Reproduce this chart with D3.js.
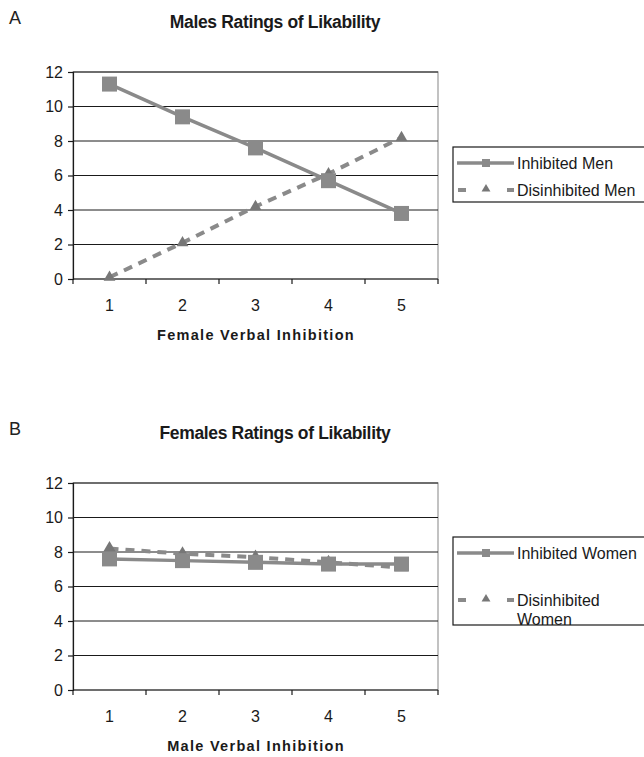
<!DOCTYPE html>
<html>
<head>
<meta charset="utf-8">
<script src="https://cdn.jsdelivr.net/npm/d3@7"></script>
<style>
  html, body { margin: 0; padding: 0; background: #fff; }
  svg { display: block; font-family: "Liberation Sans", Arial, sans-serif; }
</style>
</head>
<body>
<svg id="fig" width="644" height="757"></svg>
<script>
// Verbal inhibition levels (x categories)
const categories = ["1", "2", "3", "4", "5"];
const yTicks = [0, 2, 4, 6, 8, 10, 12];

// Panel A: males' likability ratings
const inhibitedMen = [11.3, 9.4, 7.6, 5.7, 3.8];
const disinhibitedMen = [0.1, 2.1, 4.2, 6.1, 8.2];

// Panel B: females' likability ratings
const inhibitedWomen = [7.6, 7.5, 7.4, 7.3, 7.3];
const disinhibitedWomen = [8.2, 7.9, 7.7, 7.4, 7.1];

const svg = d3.select("#fig");
const lineColor = "#8a8a8a";
const triColor = "#777777";

function drawPanel(cfg) {
  const g = svg.append("g");
  const x = d3.scaleBand().domain(categories).range([73, 438]);
  const y = d3.scaleLinear().domain([0, 12]).range([cfg.bottom, cfg.bottom - 207]);

  // panel letter and title
  g.append("text").attr("x", 9).attr("y", cfg.letterY)
    .attr("font-size", 18).attr("fill", "#222").text(cfg.letter);
  g.append("text").attr("x", 275).attr("y", cfg.titleY)
    .attr("text-anchor", "middle").attr("font-size", 17.5).attr("font-weight", "bold")
    .attr("letter-spacing", -0.35).attr("fill", "#1a1a1a").text(cfg.title);

  // plot frame
  g.append("rect").attr("x", 73).attr("y", y(12)).attr("width", 365).attr("height", y(0) - y(12))
    .attr("fill", "none").attr("stroke", "#9a9a9a").attr("stroke-width", 1.2);

  // horizontal gridlines
  g.selectAll(".grid").data(yTicks.filter(d => d > 0)).join("line")
    .attr("x1", 73).attr("x2", 438)
    .attr("y1", d => y(d)).attr("y2", d => y(d))
    .attr("stroke", "#1a1a1a").attr("stroke-width", 1);

  // y axis
  const yAxis = g.append("g").attr("transform", "translate(73,0)")
    .call(d3.axisLeft(y).tickValues(yTicks).tickSize(5).tickPadding(5).tickFormat(d3.format("d")));
  yAxis.select(".domain").attr("stroke", "#1a1a1a").attr("stroke-width", 1.2);
  yAxis.selectAll(".tick line").attr("stroke", "#1a1a1a").attr("stroke-width", 1.2);
  yAxis.selectAll(".tick text").attr("font-size", 16).attr("fill", "#1a1a1a")
    .attr("font-family", "Liberation Sans, Arial, sans-serif");

  // x axis with ticks at category boundaries
  const xAxisG = g.append("g").attr("transform", `translate(0,${y(0)})`);
  xAxisG.append("line").attr("x1", 73).attr("x2", 438).attr("stroke", "#1a1a1a").attr("stroke-width", 1.2);
  const bounds = categories.map(c => x(c)).concat([x(categories[categories.length - 1]) + x.bandwidth()]);
  xAxisG.selectAll(".xt").data(bounds).join("line")
    .attr("x1", d => d).attr("x2", d => d).attr("y1", 0).attr("y2", 5)
    .attr("stroke", "#1a1a1a").attr("stroke-width", 1.2);
  xAxisG.selectAll(".xl").data(categories).join("text")
    .attr("x", d => x(d) + x.bandwidth() / 2).attr("y", 32)
    .attr("text-anchor", "middle").attr("font-size", 16).attr("fill", "#1a1a1a").text(d => d);

  g.append("text").attr("x", 256).attr("y", cfg.axisLabelY)
    .attr("text-anchor", "middle").attr("font-size", 14.5).attr("font-weight", "bold")
    .attr("letter-spacing", 1.3).attr("fill", "#1a1a1a").text(cfg.xLabel);

  const cx = d => x(d) + x.bandwidth() / 2;
  const line = d3.line().x((d, i) => cx(categories[i])).y(d => y(d));

  // dashed series with triangles
  g.append("path").datum(cfg.dashed).attr("d", line)
    .attr("fill", "none").attr("stroke", lineColor).attr("stroke-width", 4)
    .attr("stroke-dasharray", "9,7");
  const tri = d3.symbol().type(d3.symbolTriangle).size(cfg.triSize);
  g.selectAll(".tri").data(cfg.dashed).join("path")
    .attr("transform", (d, i) => `translate(${cx(categories[i])},${y(d)})`)
    .attr("d", tri).attr("fill", triColor);

  // solid series with squares
  g.append("path").datum(cfg.solid).attr("d", line)
    .attr("fill", "none").attr("stroke", lineColor).attr("stroke-width", 3.5);
  g.selectAll(".sq").data(cfg.solid).join("rect")
    .attr("x", (d, i) => cx(categories[i]) - 7.5).attr("y", d => y(d) - 7.5)
    .attr("width", 15).attr("height", 15).attr("fill", lineColor);

  // legend
  const L = cfg.legend;
  g.append("rect").attr("x", 453).attr("y", L.top).attr("width", 200).attr("height", L.height)
    .attr("fill", "#fff").attr("stroke", "#1a1a1a").attr("stroke-width", 1.2);
  // solid entry
  g.append("line").attr("x1", 457).attr("x2", 514).attr("y1", L.solidY).attr("y2", L.solidY)
    .attr("stroke", lineColor).attr("stroke-width", 3.5);
  g.append("rect").attr("x", 482).attr("y", L.solidY - 4).attr("width", 8).attr("height", 8).attr("fill", lineColor);
  g.append("text").attr("x", 517).attr("y", L.solidY + 6).attr("font-size", 16).attr("fill", "#1a1a1a").text(cfg.solidName);
  // dashed entry
  g.append("line").attr("x1", 458).attr("x2", 514).attr("y1", L.dashY).attr("y2", L.dashY)
    .attr("stroke", lineColor).attr("stroke-width", 4).attr("stroke-dasharray", "8,41");
  g.append("path").attr("transform", `translate(486,${L.dashY - 1})`)
    .attr("d", d3.symbol().type(d3.symbolTriangle).size(34)).attr("fill", triColor);
  const dt = g.append("text").attr("x", 517).attr("y", L.dashY + 6).attr("font-size", 16).attr("fill", "#1a1a1a");
  cfg.dashedName.forEach((t, i) => {
    dt.append("tspan").attr("x", 517).attr("dy", i === 0 ? 0 : 19).text(t);
  });
}

drawPanel({
  letter: "A", letterY: 24, title: "Males Ratings of Likability", titleY: 28,
  bottom: 279, axisLabelY: 340, xLabel: "Female Verbal Inhibition",
  solid: inhibitedMen, dashed: disinhibitedMen, triSize: 60,
  solidName: "Inhibited Men", dashedName: ["Disinhibited Men"],
  legend: { top: 147, height: 55, solidY: 163, dashY: 190 }
});

drawPanel({
  letter: "B", letterY: 435, title: "Females Ratings of Likability", titleY: 439,
  bottom: 690, axisLabelY: 751, xLabel: "Male Verbal Inhibition",
  solid: inhibitedWomen, dashed: disinhibitedWomen, triSize: 75,
  solidName: "Inhibited Women", dashedName: ["Disinhibited", "Women"],
  legend: { top: 537, height: 88, solidY: 553, dashY: 600 }
});
</script>
</body>
</html>
